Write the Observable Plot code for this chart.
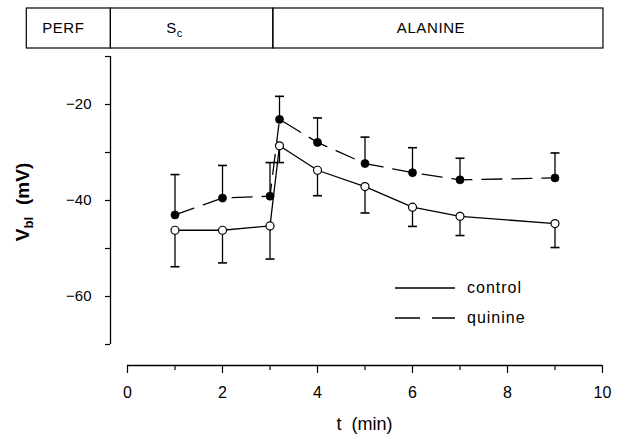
<!DOCTYPE html>
<html><head><meta charset="utf-8">
<script src="https://cdn.jsdelivr.net/npm/d3@7"></script>
<script src="https://cdn.jsdelivr.net/npm/@observablehq/plot@0.6"></script>
<style>
body{margin:0;background:#fff}
#chart{width:626px;height:443px}
</style>
</head><body><div id="chart"></div>
<script>
// ---- data ----
const times        = [1, 2, 3, 3.2, 4, 5, 6, 7, 9];
const controlMean  = [-46.2, -46.2, -45.3, -28.6, -33.7, -37.1, -41.4, -43.3, -44.8];
const controlSE    = [7.6, 6.8, 6.9, 3.5, 5.3, 5.5, 4.0, 4.0, 5.0];
const quinineMean  = [-43.0, -39.5, -39.1, -23.1, -27.9, -32.3, -34.2, -35.7, -35.3];
const quinineSE    = [8.4, 6.8, 7.0, 4.8, 5.1, 5.5, 5.2, 4.5, 5.2];

const yTicks       = [-70, -60, -50, -40, -30, -20, -10];
const yLabelled    = [-60, -40, -20];
const xTicks       = [0, 1, 2, 3, 4, 5, 6, 7, 8, 9, 10];
const xLabelled    = [0, 2, 4, 6, 8, 10];

const phaseLabels  = ["PERF", "S", "ALANINE"];
const phaseSubs    = ["", "c", ""];
const phaseStart   = [-2.12, -0.35, 3.07];   // minutes
const phaseEnd     = [-0.35, 3.07, 10.02];
const phaseLabelAt = [-1.34, 1.0, 6.4];

const seriesNames  = ["control", "quinine"];

// ---- tables ----
const control = times.map((t, i) => ({t, mean: controlMean[i], end: controlMean[i] - controlSE[i]}));
const quinine = times.map((t, i) => ({t, mean: quinineMean[i], end: quinineMean[i] + quinineSE[i]}));
const errs = control.concat(quinine);

const cap = {draw(ctx) { ctx.moveTo(-4.5, 0); ctx.lineTo(4.5, 0); }};
const fmt = d => (d < 0 ? "\u2212" : "") + Math.abs(d);
const FONT = "'Liberation Sans', Arial, Helvetica, sans-serif";

const chart = Plot.plot({
  width: 626,
  height: 443,
  marginLeft: 127,
  marginRight: 24,
  marginTop: 56,
  marginBottom: 99,
  style: {fontFamily: FONT, fontSize: "15px", color: "black", background: "white"},
  x: {domain: [0, 10], label: null},
  y: {domain: [-70, -10], label: null},
  marks: [
    // axis lines (offset)
    Plot.ruleX([0], {y1: -70, y2: -10, dx: -17, stroke: "black", strokeWidth: 1.3}),
    Plot.ruleY([-70], {x1: 0, x2: 10, dy: 21, stroke: "black", strokeWidth: 1.6}),
    Plot.axisY(yTicks, {tickSize: 5, tickPadding: 14, dx: -17, strokeWidth: 1.2,
      tickFormat: d => yLabelled.includes(d) ? fmt(d) : "", fontSize: 15}),
    Plot.axisX(xTicks.filter(d => !xLabelled.includes(d)), {tickSize: 5, dy: 21, strokeWidth: 1.2, tickFormat: () => ""}),
    Plot.axisX(xLabelled, {tickSize: 8, tickPadding: 13, dy: 21, strokeWidth: 1.2, fontSize: 16}),
    // error bars
    Plot.ruleX(errs, {x: "t", y1: "mean", y2: "end", stroke: "black", strokeWidth: 1.3}),
    Plot.dot(errs, {x: "t", y: "end", symbol: cap, r: 4, stroke: "black", strokeWidth: 1.6}),
    // lines
    Plot.line(control, {x: "t", y: "mean", stroke: "black", strokeWidth: 1.3}),
    Plot.line(quinine, {x: "t", y: "mean", stroke: "black", strokeWidth: 1.3, strokeDasharray: "20,10"}),
    // points
    Plot.dot(control, {x: "t", y: "mean", r: 4, fill: "white", stroke: "black", strokeWidth: 1.2}),
    Plot.dot(quinine, {x: "t", y: "mean", r: 4, fill: "black", stroke: "black", strokeWidth: 0.8})
  ]
});
document.getElementById("chart").appendChild(chart);

// ---- annotations ----
const svg = d3.select(chart);
const xs = chart.scale("x");

// header (protocol bar)
const hdr = svg.append("g");
phaseLabels.forEach((lab, i) => {
  const x0 = xs.apply(phaseStart[i]), x1 = xs.apply(phaseEnd[i]);
  hdr.append("rect").attr("x", x0).attr("y", 8).attr("width", x1 - x0).attr("height", 40)
    .attr("fill", "none").attr("stroke", "black").attr("stroke-width", 1.2);
  const t = hdr.append("text").attr("x", xs.apply(phaseLabelAt[i])).attr("y", 33)
    .attr("text-anchor", "middle").attr("font-family", FONT).attr("font-size", 15)
    .attr("letter-spacing", 0.6).attr("fill", "black");
  t.append("tspan").text(lab);
  if (phaseSubs[i]) t.append("tspan").attr("dy", 4).attr("font-size", 11).text(phaseSubs[i]);
});

// y label
const yl = svg.append("text").attr("transform", "translate(29,202) rotate(-90)")
  .attr("text-anchor", "middle").attr("font-family", FONT).attr("font-size", 19)
  .attr("font-weight", "bold").attr("fill", "black");
yl.append("tspan").text("V");
yl.append("tspan").attr("dy", 4).attr("font-size", 13).text("bl");
yl.append("tspan").attr("dy", -4).attr("dx", 12).text("(mV)");

// x label
svg.append("text").attr("x", xs.apply(5)).attr("y", 430).attr("text-anchor", "middle")
  .attr("font-family", FONT).attr("font-size", 18).attr("fill", "black")
  .attr("xml:space", "preserve").text("t  (min)");

// legend
const leg = svg.append("g");
seriesNames.forEach((name, i) => {
  const y = 288 + i * 30;
  leg.append("line").attr("x1", 395).attr("x2", 455).attr("y1", y).attr("y2", y)
    .attr("stroke", "black").attr("stroke-width", 1.3)
    .attr("stroke-dasharray", i === 1 ? "25,12" : null);
  leg.append("text").attr("x", 467).attr("y", y + 5).attr("text-anchor", "start")
    .attr("font-family", FONT).attr("font-size", 16).attr("letter-spacing", 1)
    .attr("fill", "black").text(name);
});
</script>
</body></html>
